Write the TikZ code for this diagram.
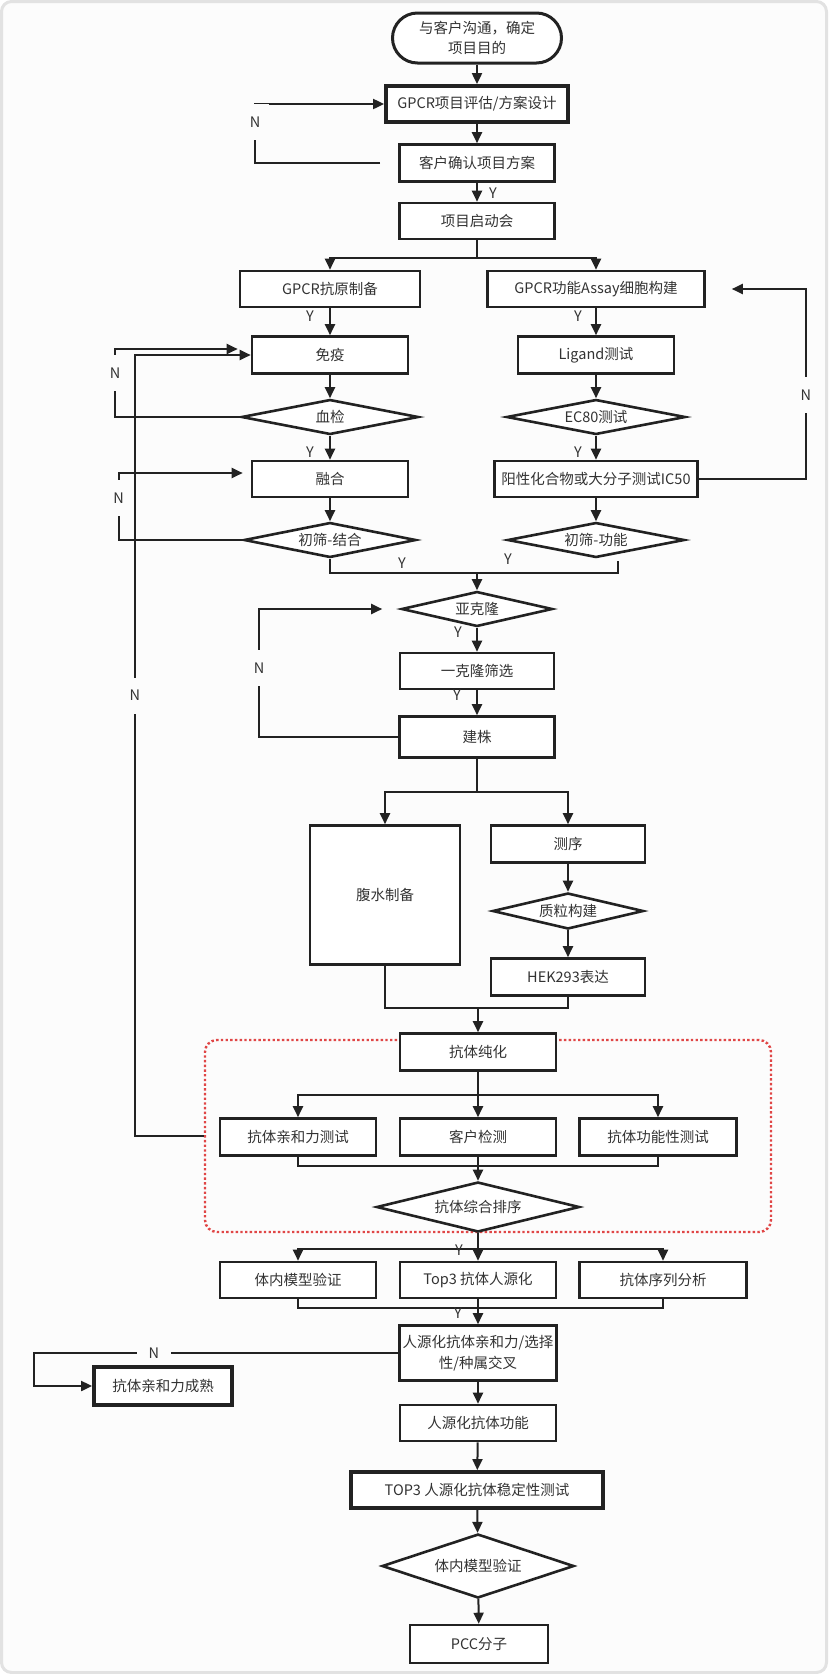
\documentclass[tikz,border=0pt]{standalone}
\usepackage{fontspec}
\setmainfont{Noto Sans CJK SC}
\usetikzlibrary{arrows.meta,shapes.geometric,calc}
\definecolor{inkline}{HTML}{222222}
\definecolor{inktext}{HTML}{333333}
\definecolor{pagebg}{HTML}{FCFCFC}
\definecolor{pageframe}{HTML}{E2E2E2}
\definecolor{dotred}{HTML}{E04646}
\def\stepnode{\node[proc]}
\def\asknode{\node[decide]}

\begin{document}
\begin{tikzpicture}[x=1pt,y=-1pt,font=\fontsize{14.5}{20.5}\selectfont,text=inktext,
  proc/.style={rectangle,draw=inkline,fill=white,line width=2.6pt,minimum width=156pt,minimum height=37pt,inner sep=2pt,align=center},
  heavy/.style={line width=3.8pt},
  decide/.style={diamond,draw=inkline,fill=white,line width=2.6pt,aspect=5,inner sep=1pt},
  flow/.style={draw=inkline,line width=2pt,-{Triangle[length=11pt,width=10pt]}},
  link/.style={draw=inkline,line width=2pt},
  nlab/.style={fill=pagebg,minimum width=28pt,minimum height=36pt,inner sep=0pt},
  ylab/.style={inner sep=0pt}]
\useasboundingbox (0,0) rectangle (828,1674);
\draw[draw=pageframe,fill=pagebg,line width=3pt,rounded corners=10pt] (1.5,1.5) rectangle (826.5,1672.5);
\node[draw=dotred,line width=2.4pt,dash pattern=on 2.4pt off 2.3pt,rounded corners=12pt,minimum width=566pt,minimum height=192pt] (panel) at (488,1136) {};

\node[draw=inkline,fill=white,line width=3pt,rounded corners=25pt,minimum width=169pt,minimum height=50pt,align=center] (start) at (477,38) {与客户沟通，确定\\项目目的};
\stepnode (eval) at (477,104) [heavy,minimum width=182pt,minimum height=36pt] {GPCR项目评估/方案设计};
\stepnode (confirm) at (477,163) [minimum width=155pt] {客户确认项目方案};
\stepnode (kickoff) at (477,221) [minimum width=155pt,minimum height=36pt] {项目启动会};
\stepnode (antigen) at (330,289) [minimum width=180pt,minimum height=36pt] {GPCR抗原制备};
\stepnode (assay) at (596,289) [minimum width=217pt,minimum height=36pt] {GPCR功能Assay细胞构建};
\stepnode (immun) at (330,355) {免疫};
\stepnode (ligand) at (596,355) {Ligand测试};
\asknode (blood) at (330,417) [minimum width=177pt,minimum height=35pt] {血检};
\asknode (ec80) at (596,417) [minimum width=179pt,minimum height=35pt] {EC80测试};
\stepnode (fusion) at (330,479) [minimum height=36pt] {融合};
\stepnode (ic50) at (596,479) [minimum width=203pt,minimum height=36pt] {阳性化合物或大分子测试IC50};
\asknode (bind) at (330,540) [minimum width=172pt,minimum height=35pt] {初筛-结合};
\asknode (func) at (596,540) [minimum width=177pt,minimum height=35pt] {初筛-功能};
\asknode (subclone) at (477,609) [minimum width=151pt,minimum height=35pt] {亚克隆};
\stepnode (monoclone) at (477,671) [minimum width=154pt,minimum height=36pt] {一克隆筛选};
\stepnode (strain) at (477,737) [minimum width=155pt,minimum height=41pt] {建株};
\stepnode (ascites) at (385,895) [minimum width=150pt,minimum height=139pt] {腹水制备};
\stepnode (seq) at (568,844) [minimum width=154pt] {测序};
\asknode (plasmid) at (568,911) [minimum width=151pt,minimum height=36pt] {质粒构建};
\stepnode (hek) at (568,977) [minimum width=154pt] {HEK293表达};
\stepnode (purify) at (478,1052) {抗体纯化};
\stepnode (affin) at (298,1137) {抗体亲和力测试};
\stepnode (custom) at (478,1137) {客户检测};
\stepnode (funct) at (658,1137) [minimum width=157pt] {抗体功能性测试};
\asknode (rank) at (478,1207) [aspect=4,minimum width=203pt,minimum height=50pt] {抗体综合排序};
\stepnode (invivo) at (298,1280) [minimum height=36pt] {体内模型验证};
\stepnode (human) at (478,1280) [minimum height=36pt] {Top3 抗体人源化};
\stepnode (seqana) at (663,1280) [minimum width=167pt,minimum height=36pt] {抗体序列分析};
\stepnode (hcross) at (478,1353) [minimum width=157pt,minimum height=55pt,inner sep=0pt] {人源化抗体亲和力/选择\\性/种属交叉};
\stepnode (mature) at (163,1386) [heavy,minimum width=138pt,minimum height=38pt] {抗体亲和力成熟};
\stepnode (hfunc) at (478,1423) [minimum height=36pt] {人源化抗体功能};
\stepnode (stab) at (477,1490) [heavy,minimum width=252pt,minimum height=36pt] {TOP3 人源化抗体稳定性测试};
\asknode (invivo2) at (478,1566) [aspect=3,minimum width=192pt,minimum height=64pt] {体内模型验证};
\stepnode (pcc) at (479,1644) [minimum width=138pt,minimum height=38pt] {PCC分子};

\draw[flow] (start) -- (eval);
\draw[flow] (eval) -- (confirm);
\draw[flow] (confirm) -- (kickoff);
\draw[flow] ([xshift=-18]confirm.west) -- ++(-125,0) |- (eval.west) node[nlab,pos=0.35] (n1) {N};
\draw[link] (kickoff.south) -- ++(0,18) coordinate (j1);
\draw[flow] (j1) -| (antigen.north);
\draw[flow] (j1) -| (assay.north);
\draw[flow] (antigen) -- (immun);
\draw[flow] (immun) -- (blood);
\draw[flow] (blood) -- (fusion);
\draw[flow] (fusion) -- (bind);
\draw[flow] (assay) -- (ligand);
\draw[flow] (ligand) -- (ec80);
\draw[flow] (ec80) -- (ic50);
\draw[flow] (ic50) -- (func);
\draw[flow] (blood.west) -- ++(-125,0) |- ([xshift=-13,yshift=6]immun.west) node[nlab,pos=0.32] (n2) {N};
\draw[flow] (bind.west) -- ++(-124,0) |- ([xshift=-8,yshift=6]fusion.west) node[nlab,pos=0.31] (n3) {N};
\draw[flow] (ic50.east) -- ++(107,0) |- ([xshift=26]assay.east) node[nlab,pos=0.22] (n4) {N};
\coordinate (j2) at (477,573);
\draw[link] (bind.south) |- (j2) -| ([xshift=22,yshift=-2]func.south);
\draw[flow] (j2) -- (subclone.north);
\draw[flow] (subclone) -- (monoclone);
\draw[flow] (monoclone) -- (strain);
\draw[flow] (strain.west) -- ++(-139,0) |- ([xshift=-18]subclone.west) node[nlab,pos=0.27] (n5) {N};
\draw[link] (strain.south) -- ++(0,33.5) coordinate (j3);
\draw[flow] (j3) -| (ascites.north);
\draw[flow] (j3) -| (seq.north);
\draw[flow] (seq) -- (plasmid);
\draw[flow] (plasmid) -- (hek);
\coordinate (j4) at (478,1008);
\draw[link] (ascites.south) |- (j4) -| (hek.south);
\draw[flow] (j4) -- (purify.north);
\draw[link] (purify.south) -- ++(0,23.5) coordinate (j5);
\draw[flow] (j5) -| (affin.north);
\draw[flow] (j5) -- (custom.north);
\draw[flow] (j5) -| (funct.north);
\coordinate (j6) at (478,1166);
\draw[link] (affin.south) |- (j6) -| (funct.south);
\draw[link] (custom.south) -- (j6);
\draw[flow] (j6) -- (rank.north);
\draw[link] (rank.south) -- ++(0,16) coordinate (j7);
\draw[flow] (j7) -| (invivo.north);
\draw[flow] (j7) -- (human.north);
\draw[flow] (j7) -| (seqana.north);
\coordinate (j8) at (478,1308);
\draw[link] (invivo.south) |- (j8) -| (seqana.south);
\draw[link] (human.south) -- (j8);
\draw[flow] (j8) -- (hcross.north);
\draw[flow] (hcross.west) -- node[nlab,pos=0.67,minimum width=34pt,minimum height=16pt] (n6) {N} ++(-364.5,0) |- (mature.west);
\draw[flow] (hcross) -- (hfunc);
\draw[flow] (hfunc) -- (stab);
\draw[flow] (stab) -- (invivo2);
\draw[flow] (invivo2) -- (pcc);
\draw[flow] (panel.west) -- ++(-69,0) |- (immun.west) node[nlab,pos=0.282] (n7) {N};

\node[ylab] (y1) at (493,193) {Y};
\node[ylab] (y2) at (310,316) {Y};
\node[ylab] (y3) at (578,316) {Y};
\node[ylab] (y4) at (310,452) {Y};
\node[ylab] (y5) at (578,452) {Y};
\node[ylab] (y6) at (402,563) {Y};
\node[ylab] (y7) at (508,559) {Y};
\node[ylab] (y8) at (458,632) {Y};
\node[ylab] (y9) at (457,695) {Y};
\node[ylab] (y10) at (459,1250) {Y};
\node[ylab] (y11) at (458,1313) {Y};
\end{tikzpicture}
\end{document}
